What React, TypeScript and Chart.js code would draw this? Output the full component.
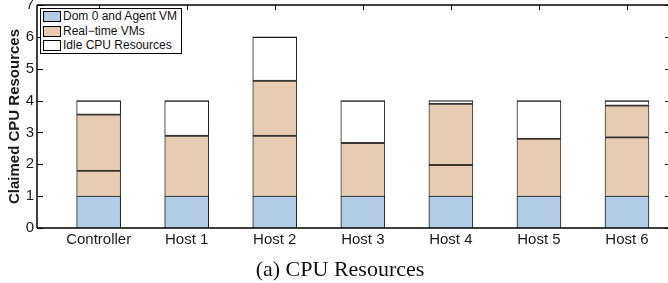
import React, { useEffect, useRef } from 'react';
import { Chart, registerables } from 'chart.js';

Chart.register(...registerables);

const categories = ['Controller', 'Host 1', 'Host 2', 'Host 3', 'Host 4', 'Host 5', 'Host 6'];
const dom0AgentVm = [1, 1, 1, 1, 1, 1, 1];
const realTimeVm1 = [0.82, 1.92, 1.92, 1.69, 1.0, 1.82, 1.87];
const realTimeVm2: (number | null)[] = [1.76, null, 1.72, null, 1.92, null, 1.0];
const idleCpu = [0.42, 1.08, 1.36, 1.31, 0.08, 1.18, 0.13];
const yTickValues = [0, 1, 2, 3, 4, 5, 6, 7];
const seriesNames = ['Dom 0 and Agent VM', 'Real\u2212time VMs', 'Idle CPU Resources'];
const seriesColors = ['#b3cce6', '#e6ccb3', '#ffffff'];
const yTitle = 'Claimed CPU Resources';
const caption = '(a) CPU Resources';

const FONT = '"Liberation Sans", Arial, Helvetica, sans-serif';

export default function App() {
  const canvasRef = useRef<HTMLCanvasElement>(null);

  useEffect(() => {
    const canvas = canvasRef.current;
    if (!canvas) return;
    const toPts = (arr: (number | null)[]) =>
      arr
        .map((v, i) => (v == null ? null : { x: i + 1, y: v }))
        .filter((p) => p !== null) as { x: number; y: number }[];

    const framePlugin = {
      id: 'frame',
      afterDatasetsDraw(chart: any) {
        const { ctx, chartArea, scales } = chart;
        const { left, right, top, bottom } = chartArea;
        const xs = scales.x;
        const ys = scales.y;
        ctx.save();
        ctx.strokeStyle = '#000';
        ctx.lineWidth = 1.5;
        ctx.beginPath();
        ctx.moveTo(left, bottom);
        ctx.lineTo(right, bottom);
        ctx.moveTo(left, top);
        ctx.lineTo(right, top);
        ctx.moveTo(left, top);
        ctx.lineTo(left, bottom);
        ctx.moveTo(right, top);
        ctx.lineTo(right, bottom);
        ctx.stroke();
        ctx.lineWidth = 1;
        ctx.beginPath();
        yTickValues.forEach((v) => {
          const py = Math.round(ys.getPixelForValue(v)) + 0.5;
          ctx.moveTo(left, py);
          ctx.lineTo(left + 6, py);
          ctx.moveTo(right, py);
          ctx.lineTo(right - 6, py);
        });
        categories.forEach((_, i) => {
          const px = Math.round(xs.getPixelForValue(i + 1)) + 0.5;
          ctx.moveTo(px, top);
          ctx.lineTo(px, top + 5);
        });
        ctx.stroke();
        ctx.restore();
      },
    };

    const common = {
      barThickness: 44,
      borderColor: '#1a1a1a',
      borderSkipped: false as const,
    };

    const chart = new Chart(canvas, {
      type: 'bar',
      data: {
        datasets: [
          {
            ...common,
            label: seriesNames[0],
            data: toPts(dom0AgentVm),
            backgroundColor: seriesColors[0],
            borderWidth: { top: 1, left: 1, right: 1, bottom: 0 },
          },
          {
            ...common,
            label: seriesNames[1],
            data: toPts(realTimeVm1),
            backgroundColor: seriesColors[1],
            borderColor: '#3a3530',
            borderWidth: { top: 2, left: 1, right: 1, bottom: 0 },
          },
          {
            ...common,
            label: seriesNames[1] + ' 2',
            data: toPts(realTimeVm2),
            backgroundColor: seriesColors[1],
            borderColor: '#3a3530',
            borderWidth: { top: 2, left: 1, right: 1, bottom: 0 },
          },
          {
            ...common,
            label: seriesNames[2],
            data: toPts(idleCpu),
            backgroundColor: seriesColors[2],
            borderWidth: { top: 1.5, left: 1, right: 1, bottom: 0 },
          },
        ],
      },
      options: {
        responsive: false,
        animation: false,
        devicePixelRatio: 1,
        layout: { padding: { top: 5, right: 29, left: 0, bottom: 0 } },
        plugins: {
          legend: { display: false },
          tooltip: { enabled: false },
          title: { display: false },
        },
        scales: {
          x: {
            type: 'linear',
            stacked: true,
            offset: false,
            min: 0.3,
            max: 7.5,
            grid: { display: false, drawTicks: false, offset: false },
            border: { display: false },
            ticks: {
              padding: 3,
              color: '#1a1a1a',
              font: { family: FONT, size: 15 },
              autoSkip: false,
              maxRotation: 0,
              callback: (v: any) => {
                const idx = Math.round(Number(v)) - 1;
                return Math.abs(Number(v) - (idx + 1)) < 1e-6 && categories[idx] ? categories[idx] : '';
              },
            },
            afterBuildTicks: (scale: any) => {
              scale.ticks = categories.map((_, i) => ({ value: i + 1 }));
            },
            afterFit: (scale: any) => {
              scale.height = 55;
              scale.paddingLeft = 0;
              scale.paddingRight = 0;
            },
          },
          y: {
            type: 'linear',
            stacked: true,
            min: 0,
            max: 7,
            grid: { display: false, drawTicks: false },
            border: { display: false },
            ticks: {
              padding: 3,
              color: '#1a1a1a',
              font: { family: FONT, size: 15 },
              stepSize: 1,
            },
            afterBuildTicks: (scale: any) => {
              scale.ticks = yTickValues.map((v) => ({ value: v }));
            },
            title: {
              display: true,
              text: yTitle,
              color: '#1a1a1a',
              font: { family: FONT, size: 15, weight: 'bold' },
              padding: { top: 6, bottom: 0 },
            },
            afterFit: (scale: any) => {
              scale.width = 37;
              scale.paddingTop = 0;
              scale.paddingBottom = 0;
            },
          },
        },
      },
      plugins: [framePlugin],
    } as any);

    return () => chart.destroy();
  }, []);

  return (
    <div
      style={{
        position: 'fixed',
        left: 0,
        top: 0,
        width: 668,
        height: 283,
        overflow: 'hidden',
        background: '#fff',
      }}
    >
      <canvas ref={canvasRef} width={700} height={283} style={{ width: 700, height: 283, display: 'block' }} />
      <div
        style={{
          position: 'absolute',
          left: 40,
          top: 8,
          width: 142,
          height: 46,
          boxSizing: 'border-box',
          border: '1px solid #000',
          background: '#fff',
          fontFamily: FONT,
          fontSize: 12,
          color: '#111',
        }}
      >
        {seriesNames.map((name, i) => (
          <div
            key={name}
            style={{
              position: 'absolute',
              left: 2,
              top: 2 + i * 14.5,
              height: 11,
              display: 'flex',
              alignItems: 'center',
              whiteSpace: 'nowrap',
            }}
          >
            <span
              style={{
                display: 'inline-block',
                width: 18,
                height: 11,
                boxSizing: 'border-box',
                border: '1px solid #000',
                background: seriesColors[i],
              }}
            />
            <span style={{ marginLeft: 2, lineHeight: '11px' }}>{name}</span>
          </div>
        ))}
      </div>
      <div
        style={{
          position: 'absolute',
          left: 0,
          top: 258,
          width: 680,
          textAlign: 'center',
          fontFamily: '"Liberation Serif", "Times New Roman", serif',
          fontSize: 22,
          lineHeight: '22px',
          color: '#111',
          whiteSpace: 'nowrap',
        }}
      >
        {caption}
      </div>
    </div>
  );
}
